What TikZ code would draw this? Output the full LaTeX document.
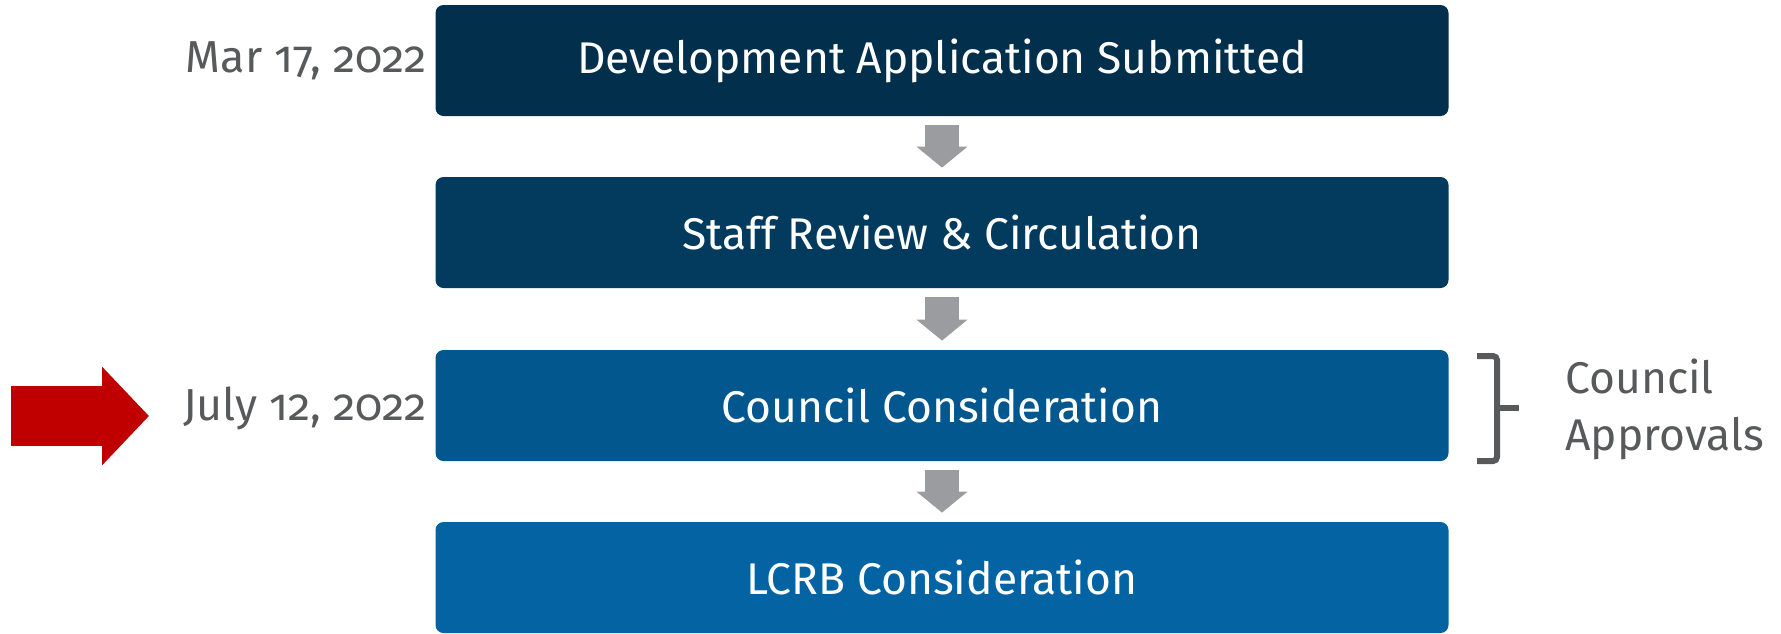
\documentclass[tikz,border=0pt]{standalone}
\usepackage{fontspec}
\setmainfont[Numbers=OldStyle]{Fira Sans}
\usepackage{xcolor}
\usepackage{tikz}
\usetikzlibrary{positioning, arrows.meta}

\definecolor{stepA}{HTML}{022F4C}
\definecolor{stepB}{HTML}{033B5E}
\definecolor{stepC}{HTML}{02578E}
\definecolor{stepD}{HTML}{0463A3}
\definecolor{flowgray}{HTML}{9B9C9F}
\definecolor{labelgray}{HTML}{58595B}
\definecolor{markred}{HTML}{C00000}

\begin{document}
\begin{tikzpicture}[x=0.5pt,y=-0.5pt]
						\tikzstyle{stage}=[rectangle,rounded corners=4pt,inner sep=0pt,minimum width=506.5pt,minimum height=55.5pt,text=white,font=\fontsize{22.2}{26}\selectfont]
						\tikzstyle{date}=[anchor=east,inner sep=0pt,text=labelgray,font=\fontsize{22.4}{26}\selectfont]
						\tikzstyle{flow}=[draw=flowgray,line width=17pt,-{Triangle[length=10.5pt,width=25pt]}]
						\useasboundingbox (0,0) rectangle (1781,633);
						\node[stage,fill=stepA](b1) at (942,60.5) {Development Application Submitted};
						\node[stage,fill=stepB](b2) at (942,232.5) {Staff Review \& Circulation};
						\node[stage,fill=stepC](b3) at (942,405.5) {Council Consideration};
						\node[stage,fill=stepD](b4) at (942,577.5) {LCRB Consideration};
						\node[date](d1) at (427,60.5) {Mar 17, 2022};
						\node[date](d3) at (427,408) {July 12, 2022};
						\node[anchor=west,inner sep=0pt,align=left,text=labelgray,font=\fontsize{22.2}{28.5}\selectfont](ap) at (1565,409) {Council\\Approvals};
						\coordinate (rs) at (11,416);
						\coordinate (rt) at (149,416);
						\draw[flow]([yshift=-4.5pt]b1.south) -- ([yshift=4.5pt]b2.north);
						\draw[flow]([yshift=-4.5pt]b2.south) -- ([yshift=4.5pt]b3.north);
						\draw[flow]([yshift=-4.5pt]b3.south) -- ([yshift=4.5pt]b4.north);
						\draw[markred,line width=30pt,-{Triangle[length=23.5pt,width=48pt]}](rs) -- (rt);
						\draw[labelgray,line width=3pt,rounded corners=2pt](1477,356) -- (1497,356) -- (1497,461) -- (1477,461);
						\draw[labelgray,line width=3pt](1497,408) -- (1519,408);
					\end{tikzpicture}
\end{document}
